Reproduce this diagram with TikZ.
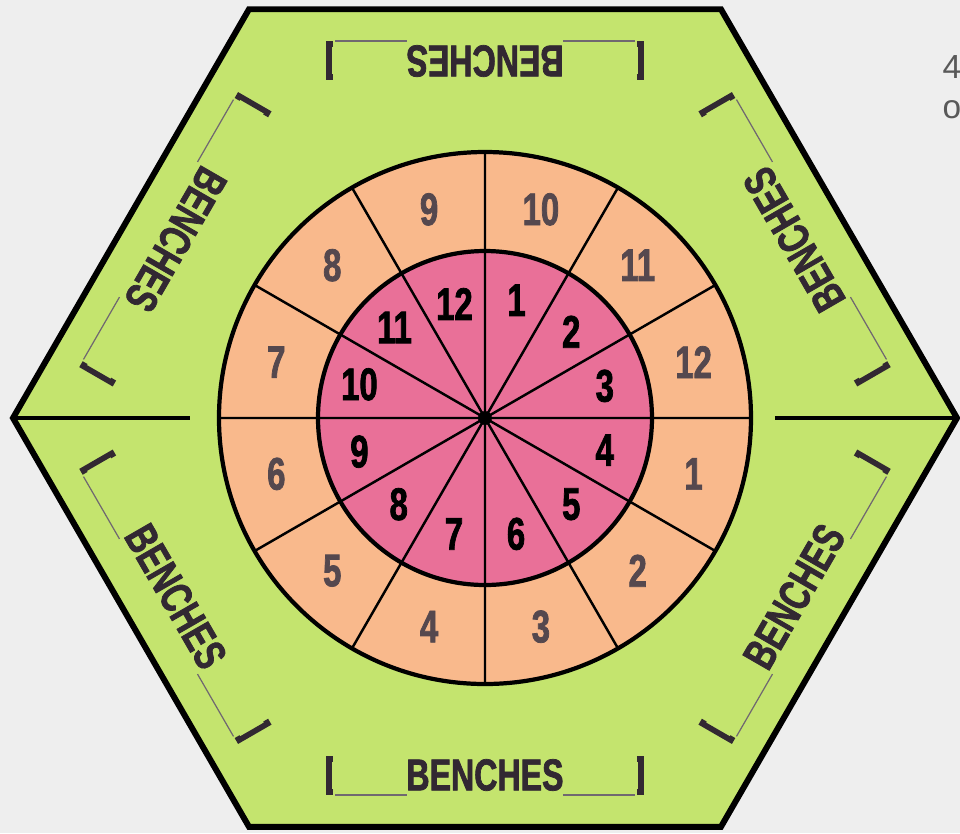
\documentclass[tikz,border=0pt]{standalone}
\usepackage{fontspec}
\setmainfont{Liberation Sans}
\newfontfamily\condfont[FakeStretch=0.72, BoldFeatures={FakeBold=1.6}]{Liberation Sans}
\definecolor{paper}{RGB}{238,238,238}
\definecolor{hexgreen}{RGB}{196,228,110}
\definecolor{ringpeach}{RGB}{249,185,140}
\definecolor{hubpink}{RGB}{233,112,152}
\definecolor{numgray}{RGB}{85,72,78}
\definecolor{ink}{RGB}{50,40,50}
\begin{document}
\begin{tikzpicture}[
    hex/.style={draw=black, line width=1.7pt, fill=hexgreen, line join=miter},
    ring/.style={draw=black, line width=1.2pt},
    spoke/.style={draw=black, line width=0.7pt},
    midline/.style={draw=black, line width=0.9pt},
    outnum/.style={inner sep=0, text=numgray, font=\condfont\bfseries\fontsize{13}{13}\selectfont},
    innum/.style={inner sep=0, text=black, font=\condfont\bfseries\fontsize{13}{13}\selectfont},
    bench/.style={inner sep=0, text=ink, font=\condfont\bfseries\fontsize{12.7}{13}\selectfont},
    rule/.style={draw=ink!70, line width=0.35pt},
    brk/.style={draw=ink, line width=1.6pt},
    note/.style={inner sep=0, text=black!65, font=\fontsize{9.5}{10}\selectfont}]
  \useasboundingbox (-4.85,-4.15) rectangle (4.75,4.18);
  \fill[paper] (-4.85,-4.15) rectangle (4.75,4.18);
  % page text cut at the edge
  \node[note, anchor=base west] (pg4) at (4.57,3.40) {4};
  \node[note, anchor=base west] (pgo) at (4.57,3.00) {o};
  % hexagon and the two half lines
  \draw[hex] (0:4.72) -- (60:4.72) -- (120:4.72) -- (180:4.72) -- (240:4.72) -- (300:4.72) -- cycle;
  \draw[midline] (180:4.72) -- (180:2.95);
  \draw[midline] (0:2.90) -- (0:4.72);
  % outer ring
  \fill[ringpeach] (0,0) circle (2.66);
  \draw[spoke] (0:1.67) -- (0:2.66) (30:1.67) -- (30:2.66) (60:1.67) -- (60:2.66)
    (90:1.67) -- (90:2.66) (120:1.67) -- (120:2.66) (150:1.67) -- (150:2.66)
    (180:1.67) -- (180:2.66) (210:1.67) -- (210:2.66) (240:1.67) -- (240:2.66)
    (270:1.67) -- (270:2.66) (300:1.67) -- (300:2.66) (330:1.67) -- (330:2.66);
  \draw[ring] (0,0) circle (2.66);
  % inner disc
  \fill[hubpink] (0,0) circle (1.67);
  \draw[spoke] (0:1.67) -- (180:1.67) (30:1.67) -- (210:1.67) (60:1.67) -- (240:1.67)
    (90:1.67) -- (270:1.67) (120:1.67) -- (300:1.67) (150:1.67) -- (330:1.67);
  \draw[ring] (0,0) circle (1.67);
  \fill[black] (0,0) circle (0.07);
  % outer numbers
  \node[outnum] (o1)  at (-15:2.16)  {1};
  \node[outnum] (o2)  at (-45:2.16)  {2};
  \node[outnum] (o3)  at (-75:2.16)  {3};
  \node[outnum] (o4)  at (-105:2.16) {4};
  \node[outnum] (o5)  at (-135:2.16) {5};
  \node[outnum] (o6)  at (-165:2.16) {6};
  \node[outnum] (o7)  at (165:2.16)  {7};
  \node[outnum] (o8)  at (135:2.16)  {8};
  \node[outnum] (o9)  at (105:2.16)  {9};
  \node[outnum] (o10) at (75:2.16)   {10};
  \node[outnum] (o11) at (45:2.16)   {11};
  \node[outnum] (o12) at (15:2.16)   {12};
  % inner numbers
  \node[innum] (i1)  at (75:1.22)   {1};
  \node[innum] (i2)  at (45:1.22)   {2};
  \node[innum] (i3)  at (15:1.24)   {3};
  \node[innum] (i4)  at (-15:1.24)  {4};
  \node[innum] (i5)  at (-45:1.22)  {5};
  \node[innum] (i6)  at (-75:1.20)  {6};
  \node[innum] (i7)  at (-105:1.20) {7};
  \node[innum] (i8)  at (-135:1.22) {8};
  \node[innum] (i9)  at (-165:1.30) {9};
  \node[innum] (i10) at (165:1.30)  {10};
  \node[innum] (i11) at (135:1.28)  {11};
  \node[innum] (i12) at (105:1.18)  {12};
  % benches along the six sides
  \begin{scope}[shift={(-90:3.57)}, rotate=0, transform shape]
    \node[bench] (bs) at (0,0) {BENCHES};
    \draw[rule] (-1.50,-0.20) -- (-0.78,-0.20) (0.78,-0.20) -- (1.50,-0.20);
    \draw[brk] (-1.52,0.16) -- (-1.56,0.16) -- (-1.56,-0.17) -- (-1.52,-0.17)
      (1.52,0.16) -- (1.56,0.16) -- (1.56,-0.17) -- (1.52,-0.17);
  \end{scope}
  \begin{scope}[shift={(90:3.57)}, rotate=180, transform shape]
    \node[bench] (bn) at (0,0) {BENCHES};
    \draw[rule] (-1.50,-0.20) -- (-0.78,-0.20) (0.78,-0.20) -- (1.50,-0.20);
    \draw[brk] (-1.52,0.16) -- (-1.56,0.16) -- (-1.56,-0.17) -- (-1.52,-0.17)
      (1.52,0.16) -- (1.56,0.16) -- (1.56,-0.17) -- (1.52,-0.17);
  \end{scope}
  \begin{scope}[shift={(150:3.57)}, rotate=240, transform shape]
    \node[bench] (bnw) at (0,0) {BENCHES};
    \draw[rule] (-1.50,-0.20) -- (-0.78,-0.20) (0.78,-0.20) -- (1.50,-0.20);
    \draw[brk] (-1.52,0.16) -- (-1.56,0.16) -- (-1.56,-0.17) -- (-1.52,-0.17)
      (1.52,0.16) -- (1.56,0.16) -- (1.56,-0.17) -- (1.52,-0.17);
  \end{scope}
  \begin{scope}[shift={(30:3.57)}, rotate=120, transform shape]
    \node[bench] (bne) at (0,0) {BENCHES};
    \draw[rule] (-1.50,-0.20) -- (-0.78,-0.20) (0.78,-0.20) -- (1.50,-0.20);
    \draw[brk] (-1.52,0.16) -- (-1.56,0.16) -- (-1.56,-0.17) -- (-1.52,-0.17)
      (1.52,0.16) -- (1.56,0.16) -- (1.56,-0.17) -- (1.52,-0.17);
  \end{scope}
  \begin{scope}[shift={(-30:3.57)}, rotate=60, transform shape]
    \node[bench] (bse) at (0,0) {BENCHES};
    \draw[rule] (-1.50,-0.20) -- (-0.78,-0.20) (0.78,-0.20) -- (1.50,-0.20);
    \draw[brk] (-1.52,0.16) -- (-1.56,0.16) -- (-1.56,-0.17) -- (-1.52,-0.17)
      (1.52,0.16) -- (1.56,0.16) -- (1.56,-0.17) -- (1.52,-0.17);
  \end{scope}
  \begin{scope}[shift={(-150:3.57)}, rotate=-60, transform shape]
    \node[bench] (bsw) at (0,0) {BENCHES};
    \draw[rule] (-1.50,-0.20) -- (-0.78,-0.20) (0.78,-0.20) -- (1.50,-0.20);
    \draw[brk] (-1.52,0.16) -- (-1.56,0.16) -- (-1.56,-0.17) -- (-1.52,-0.17)
      (1.52,0.16) -- (1.56,0.16) -- (1.56,-0.17) -- (1.52,-0.17);
  \end{scope}
\end{tikzpicture}
\end{document}
